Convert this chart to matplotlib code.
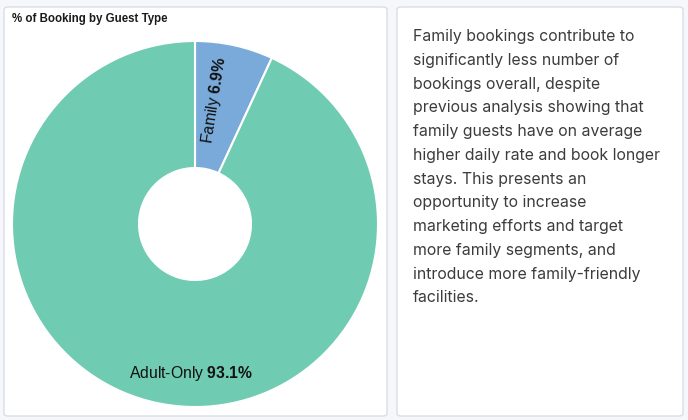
import matplotlib
matplotlib.use("Agg")
import matplotlib.pyplot as plt
from matplotlib.patches import FancyBboxPatch
import numpy as np

# datos
guest_types = ["Family", "Adult-Only"]
shares = [6.9, 93.1]
colors = ["#7aaad9", "#6fcbb1"]

title = "% of Booking by Guest Type"
note = ("Family bookings contribute to\n"
        "significantly less number of\n"
        "bookings overall, despite\n"
        "previous analysis showing that\n"
        "family guests have on average\n"
        "higher daily rate and book longer\n"
        "stays. This presents an\n"
        "opportunity to increase\n"
        "marketing efforts and target\n"
        "more family segments, and\n"
        "introduce more family-friendly\n"
        "facilities.")

plt.rcParams['mathtext.fontset'] = 'custom'
plt.rcParams['mathtext.rm'] = 'Liberation Sans'
plt.rcParams['mathtext.bf'] = 'Liberation Sans:bold'

W, H = 688, 420
fig = plt.figure(figsize=(W / 100, H / 100), dpi=100)
fig.patch.set_facecolor("#f6f7fb")


def card(x0, y0, x1, y1):
    # tarjeta blanca con borde suave (coordenadas en pixeles desde arriba)
    p = FancyBboxPatch((x0 / W, 1 - y1 / H), (x1 - x0) / W, (y1 - y0) / H,
                       boxstyle="round,pad=0,rounding_size=0.006",
                       transform=fig.transFigure, facecolor="white",
                       edgecolor="#d9dde8", linewidth=1.0, zorder=-5)
    fig.patches.append(p)


card(4, 7, 387, 416)
card(397, 7, 683, 416)

fig.text(12 / W, 1 - 19 / H, title, fontsize=8.3, fontweight="bold",
         family="Liberation Sans", color="#1a1a1a", va="center", ha="left")

# donut
cx, cy, R = 195, 224, 183
ax = fig.add_axes([(cx - R) / W, (H - cy - R) / H, 2 * R / W, 2 * R / H])
ax.patch.set_alpha(0)
ax.pie(shares, colors=colors, startangle=90, counterclock=False, radius=1,
       wedgeprops=dict(width=1 - 56 / 183, edgecolor="white", linewidth=1.5))
ax.set_xlim(-1, 1)
ax.set_ylim(-1, 1)
ax.set_aspect("equal")
ax.axis("off")

# etiquetas
mid = 90 - shares[0] / 100 * 360 / 2
ang = np.deg2rad(mid + 3.5)
ax.text(0.685 * np.cos(ang), 0.685 * np.sin(ang),
        r"%s $\mathbf{%.1f\%%}$" % (guest_types[0], shares[0]),
        rotation=mid + 3.5, ha="center", va="center", fontsize=11.3,
        family="Liberation Sans", color="#111111", rotation_mode="anchor")
ax.text(-0.02, -0.815,
        r"%s $\mathbf{%.1f\%%}$" % (guest_types[1], shares[1]),
        ha="center", va="center", fontsize=11.3, family="Liberation Sans",
        color="#111111")

fig.text(413 / W, 1 - 29 / H, note, fontsize=11.4, family="Inter",
         color="#3c3c3c", va="top", ha="left", linespacing=1.73)

fig.savefig("out.png", dpi=100, facecolor=fig.get_facecolor())
